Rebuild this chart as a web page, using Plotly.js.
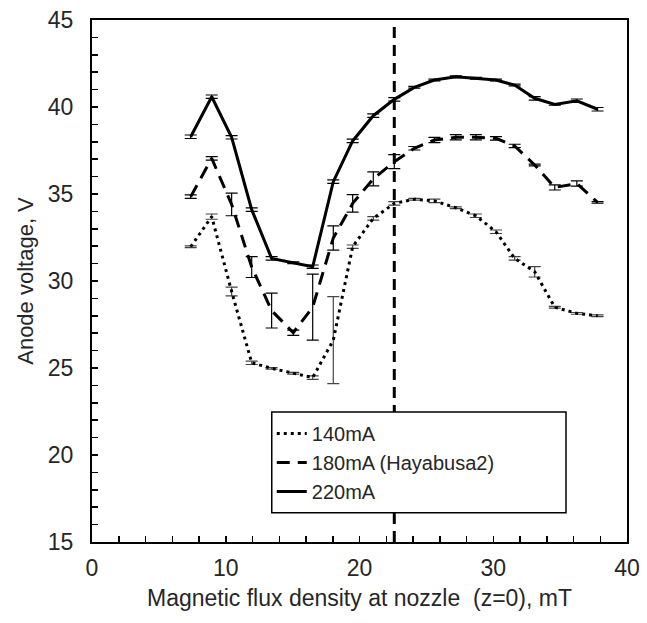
<!DOCTYPE html>
<html>
<head>
<meta charset="utf-8">
<script src="https://cdn.plot.ly/plotly-3.0.1.min.js"></script>
<style>html,body{margin:0;padding:0;background:#fff;}#chart{width:647px;height:623px;}</style>
</head>
<body>
<div id="chart"></div>
<script>
// Magnetic flux density at nozzle (mT)
const fluxDensity = [7.38, 8.95, 10.44, 11.94, 13.43, 15.05, 16.5, 18.04, 19.49, 21.03, 22.6, 24.1, 25.6, 27.2, 28.7, 30.2, 31.6, 33.1, 34.6, 36.25, 37.8];
// Anode voltage (V)
const v140 = [31.97, 33.7, 29.4, 25.3, 24.98, 24.7, 24.45, 26.6, 31.97, 33.6, 34.46, 34.7, 34.6, 34.21, 33.75, 32.83, 31.3, 30.53, 28.49, 28.14, 28.0];
const v180 = [34.85, 37.05, 34.4, 30.8, 28.3, 27.03, 28.5, 32.47, 34.46, 35.87, 36.86, 37.63, 38.1, 38.26, 38.26, 38.2, 37.76, 36.67, 35.38, 35.6, 34.52];
const v220 = [38.29, 40.59, 38.26, 34.1, 31.3, 31.05, 30.82, 35.71, 38.05, 39.5, 40.44, 41.13, 41.55, 41.74, 41.65, 41.55, 41.26, 40.5, 40.15, 40.36, 39.87];
// Error (half-width, V)
const e140 = [0.05, 0.15, 0.25, 0.1, 0.05, 0.05, 0.1, 2.5, 0.1, 0.1, 0.1, 0.05, 0.1, 0.05, 0.1, 0.1, 0.1, 0.3, 0.05, 0.05, 0.05];
const e180 = [0.1, 0.1, 0.65, 0.6, 1.0, 0.15, 1.9, 0.7, 0.5, 0.4, 0.4, 0.1, 0.15, 0.15, 0.15, 0.1, 0.1, 0.05, 0.15, 0.15, 0.05];
const e220 = [0.1, 0.1, 0.1, 0.1, 0.1, 0.05, 0.1, 0.1, 0.1, 0.1, 0.1, 0.05, 0.05, 0.05, 0.05, 0.05, 0.05, 0.1, 0.05, 0.1, 0.1];
const seriesNames = ["140mA", "180mA (Hayabusa2)", "220mA"];
const hayabusaFlux = 22.6;

const font = {family: "Liberation Sans, Arial, sans-serif", color: "#262626"};
function errOpts(arr, color) {
  return {type: "data", array: arr, visible: true, color: color, thickness: 1.2, width: 6};
}
const traces = [
  {x: fluxDensity, y: v140, name: seriesNames[0], mode: "lines", type: "scatter",
   line: {color: "#000", width: 3, dash: "3px,4px"}, error_y: errOpts(e140, "#444")},
  {x: fluxDensity, y: v180, name: seriesNames[1], mode: "lines", type: "scatter",
   line: {color: "#000", width: 3, dash: "13px,8px"}, error_y: errOpts(e180, "#000")},
  {x: fluxDensity, y: v220, name: seriesNames[2], mode: "lines", type: "scatter",
   line: {color: "#000", width: 3}, error_y: errOpts(e220, "#000")}
];
const layout = {
  width: 647, height: 623,
  margin: {l: 92, r: 20, t: 20, b: 81},
  paper_bgcolor: "#fff", plot_bgcolor: "#fff",
  font: font,
  showlegend: true,
  legend: {x: 0.336, y: 0.245, xanchor: "left", yanchor: "top",
    bgcolor: "rgba(0,0,0,0)", borderwidth: 0,
    font: {family: font.family, size: 20, color: "#262626"},
    itemwidth: 30, tracegroupgap: 0},
  xaxis: {range: [0, 40], dtick: 10, tick0: 0, ticks: "inside", ticklen: 6, tickwidth: 1.5, tickcolor: "#000",
    minor: {dtick: 2, ticks: "inside", ticklen: 6, tickwidth: 1.5, tickcolor: "#000"},
    showline: true, linecolor: "#000", linewidth: 2, mirror: true, showgrid: false, zeroline: false,
    tickfont: {size: 23, color: "#262626"}, ticklabelstandoff: 4,
    title: {text: "Magnetic flux density at nozzle  (z=0), mT", font: {size: 23, color: "#262626"}, standoff: 10}},
  yaxis: {range: [15, 45], dtick: 5, tick0: 15, ticks: "inside", ticklen: 6, tickwidth: 1.5, tickcolor: "#000",
    minor: {dtick: 1, ticks: "inside", ticklen: 6, tickwidth: 1.5, tickcolor: "#000"},
    showline: true, linecolor: "#000", linewidth: 2, mirror: true, showgrid: false, zeroline: false,
    tickfont: {size: 23, color: "#262626"}, ticklabelstandoff: 12,
    title: {text: "Anode voltage, V", font: {size: 22, color: "#262626"}, standoff: 8}},
  shapes: [
    {type: "line", xref: "x", yref: "paper", x0: hayabusaFlux, x1: hayabusaFlux, y0: 0, y1: 1,
     line: {color: "#000", width: 3, dash: "11px,7px"}},
    {type: "rect", xref: "paper", yref: "paper", x0: 0.336, x1: 0.886, y0: 0.056, y1: 0.249,
     fillcolor: "#fff", line: {color: "#000", width: 1.5}}
  ]
};
Plotly.newPlot("chart", traces, layout, {displayModeBar: false, staticPlot: true});
</script>
</body>
</html>
